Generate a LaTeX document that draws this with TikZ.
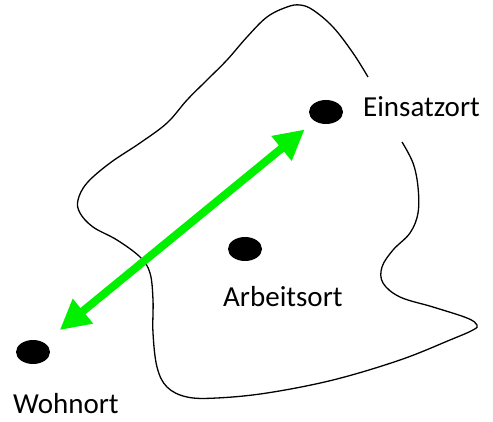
\documentclass[tikz,border=0pt]{standalone}
\usepackage{fontspec}
\setmainfont{Carlito}
\usetikzlibrary{shapes.geometric,arrows.meta}
\definecolor{arrowgreen}{RGB}{0,240,0}
\begin{document}
\begin{tikzpicture}[x=1pt,y=-1pt,
  dot/.style={ellipse,fill=black,minimum width=34pt,minimum height=24pt,inner sep=0pt},
  lbl/.style={anchor=base west,inner sep=0pt,font=\fontsize{29}{35}\selectfont},
  region/.style={line width=1.3pt,black},
  link/.style={arrowgreen,line width=8pt,{Triangle[length=30pt,width=30pt]}-{Triangle[length=30pt,width=30pt]}}]
\useasboundingbox[fill=white] (0,0) rectangle (493,422);
\draw[region] plot[smooth,tension=0.6] coordinates {
(368,77) (353,53) (333,27) (313,10) (300,5) (287,7) (267,17) (247,37) (227,60) (207,80) (187,100) (167,123) (140,143) (110,163) (87,183) (78,200) (80,213) (93,227) (117,240) (140,257) (150,273) (153,300) (153,333) (157,367) (167,387) (187,397) (217,398) (267,393) (333,380) (400,360) (450,340) (473,330) (477,325) (467,318) (433,307) (400,297) (383,283) (382,267) (393,250) (410,233) (418,213) (418,187) (413,163) (402,142)};
\node[dot] (ein) at (326,112) {};
\node[dot] (arb) at (245,249) {};
\node[dot] (woh) at (33,352) {};
\node[lbl] (einl) at (363,117) {Einsatzort};
\node[lbl] (arbl) at (223,307) {Arbeitsort};
\node[lbl] (wohl) at (13,413) {Wohnort};
\draw[link,shorten <=20pt,shorten >=13pt] (woh) -- (ein);
\end{tikzpicture}
\end{document}
